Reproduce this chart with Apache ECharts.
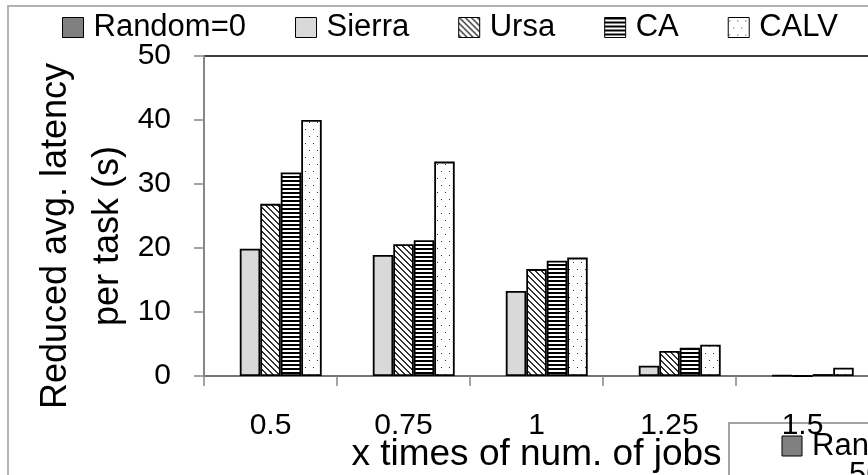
<!DOCTYPE html>
<html>
<head>
<meta charset="utf-8">
<script src="https://cdn.jsdelivr.net/npm/echarts@6/dist/echarts.min.js"></script>
<style>
  html, body { margin: 0; padding: 0; background: #fff; }
  #chart { width: 868px; height: 475px; }
</style>
</head>
<body>
<div id="chart"></div>
<script>
// ---- data ----
var categories = ['0.5', '0.75', '1', '1.25', '1.5'];
var seriesNames = ['Random=0', 'Sierra', 'Ursa', 'CA', 'CALV'];
var randomVals = [0, 0, 0, 0, 0];
var sierraVals = [19.9, 18.9, 13.3, 1.6, 0.1];
var ursaVals   = [26.9, 20.6, 16.7, 3.9, 0];
var caVals     = [31.8, 21.2, 18.0, 4.4, 0.3];
var calvVals   = [40.0, 33.5, 18.5, 4.9, 1.3];
var yTicks = [0, 10, 20, 30, 40, 50];
var xTitle = 'x times of num. of jobs';
var yTitle = 'Reduced avg. latency\nper task (s)';

// ---- patterns ----
function makeCanvas(w, h, draw) {
  var c = document.createElement('canvas');
  c.width = w; c.height = h;
  var ctx = c.getContext('2d');
  ctx.fillStyle = '#fff';
  ctx.fillRect(0, 0, w, h);
  draw(ctx);
  return c;
}
var diagCanvas = makeCanvas(6, 6, function (ctx) {
  ctx.fillStyle = '#333';
  for (var y = 0; y < 6; y++) {
    ctx.fillRect(y, y, 1, 1);
    ctx.fillRect((y + 1) % 6, y, 1, 1);
  }
});
var stripeCanvas = makeCanvas(4, 4, function (ctx) {
  ctx.fillStyle = '#000';
  ctx.fillRect(0, 0, 4, 2);
});
var dotCanvas = makeCanvas(8, 14, function (ctx) {
  ctx.fillStyle = '#333';
  ctx.fillRect(1, 3, 1, 1);
  ctx.fillRect(5, 10, 1, 1);
});

var FONT = 'Liberation Sans';
var fills = [
  '#808080',
  '#d9d9d9',
  { image: diagCanvas, repeat: 'repeat' },
  { image: stripeCanvas, repeat: 'repeat' },
  { image: dotCanvas, repeat: 'repeat' }
];
var values = [randomVals, sierraVals, ursaVals, caVals, calvVals];

var series = seriesNames.map(function (name, i) {
  return {
    name: name,
    type: 'bar',
    data: values[i],
    barGap: '0%',
    barCategoryGap: '23%',
    itemStyle: {
      color: fills[i],
      borderColor: '#000',
      borderWidth: i === 0 ? 0 : 1.8
    },
    emphasis: { disabled: true },
    animation: false
  };
});

var chart = echarts.init(document.getElementById('chart'), null, { renderer: 'canvas' });
chart.setOption({
  animation: false,
  textStyle: { fontFamily: FONT, color: '#000' },
  legend: {
    left: 57,
    top: 7,
    itemWidth: 21,
    itemHeight: 20,
    itemGap: 49,
    icon: 'rect',
    itemStyle: { borderWidth: 1, borderColor: '#000' },
    textStyle: { fontFamily: FONT, fontSize: 31, color: '#000', padding: [0, 0, 0, 5] },
    data: seriesNames.map(function (n) { return { name: n, icon: 'rect' }; })
  },
  grid: {
    left: 204,
    top: 56,
    right: -1,
    bottom: 99,
    containLabel: false,
    outerBoundsMode: 'none',
    show: true,
    borderColor: '#000',
    borderWidth: 1.5,
    backgroundColor: 'transparent'
  },
  xAxis: {
    type: 'category',
    data: categories,
    boundaryGap: true,
    name: xTitle,
    nameLocation: 'middle',
    nameGap: 60,
    nameMoveOverlap: false,
    nameTextStyle: { fontFamily: FONT, fontSize: 37, color: '#000' },
    axisLine: { lineStyle: { color: '#868686', width: 1.5 } },
    axisTick: { show: true, length: 10, lineStyle: { color: '#868686', width: 1.5 } },
    axisLabel: { fontFamily: FONT, fontSize: 30, color: '#000', margin: 35 },
    splitLine: { show: false }
  },
  yAxis: {
    type: 'value',
    min: yTicks[0],
    max: yTicks[yTicks.length - 1],
    interval: yTicks[1] - yTicks[0],
    name: yTitle,
    nameLocation: 'middle',
    nameGap: 70,
    nameMoveOverlap: false,
    nameTextStyle: { fontFamily: FONT, fontSize: 36, color: '#000', lineHeight: 52, align: 'center', padding: [0, 40, 0, 0] },
    axisLine: { show: true, lineStyle: { color: '#868686', width: 2 } },
    axisTick: { show: true, length: 10, lineStyle: { color: '#868686', width: 1.5 } },
    axisLabel: { fontFamily: FONT, fontSize: 30, color: '#000', margin: 33 },
    splitLine: { show: false }
  },
  graphic: [
    {
      type: 'rect', z: -10, silent: true,
      shape: { x: 8, y: 6, width: 900, height: 520 },
      style: { fill: 'none', stroke: '#9a9a9a', lineWidth: 1.5 }
    },
    {
      type: 'group', z: 100, silent: true,
      children: [
        { type: 'rect', shape: { x: 729, y: 423, width: 200, height: 100 },
          style: { fill: '#fff', stroke: '#868686', lineWidth: 1.5 } },
        { type: 'rect', shape: { x: 782, y: 436, width: 20, height: 20 },
          style: { fill: '#808080', stroke: '#000', lineWidth: 1 } },
        { type: 'text', x: 812, y: 446,
          style: { text: 'Random=0', font: '31px "' + FONT + '"', fill: '#000', verticalAlign: 'middle' } },
        { type: 'text', x: 849, y: 475,
          style: { text: '50', font: '31px "' + FONT + '"', fill: '#000', verticalAlign: 'middle' } }
      ]
    }
  ],
  series: series
});
</script>
</body>
</html>
